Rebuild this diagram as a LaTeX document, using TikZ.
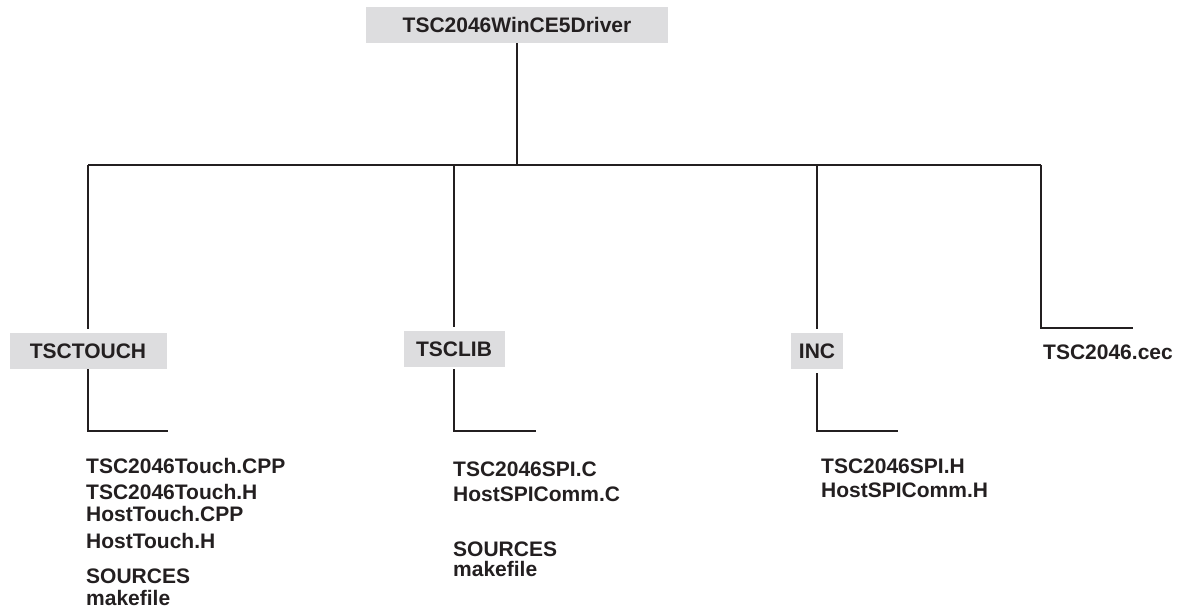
\documentclass[tikz,border=0pt]{standalone}
\usepackage{fontspec}
\setmainfont{Liberation Sans}
\definecolor{ink}{HTML}{231F20}
\definecolor{boxgray}{HTML}{DDDDDF}
\begin{document}
\begin{tikzpicture}[x=1pt,y=-1pt,
  every node/.style={font=\fontsize{21}{25}\selectfont\bfseries, text=ink, inner sep=0pt},
  dirbox/.style={fill=boxgray, minimum height=36pt, text height=15pt, text depth=0pt},
  filetext/.style={anchor=base west},
  link/.style={draw=ink, line width=1.6pt}]
\useasboundingbox (0,0) rectangle (1178,609);
% directory nodes
\node[dirbox, minimum width=302pt] (root) at (517,25) {TSC2046WinCE5Driver};
\node[dirbox, minimum width=157pt] (touch) at (88,351) {TSCTOUCH};
\node[dirbox, minimum width=101pt] (lib) at (454,349) {TSCLIB};
\node[dirbox, minimum width=52pt] (inc) at (817,351) {INC};
\node[filetext] (cec) at (1043,360) {TSC2046.cec};
% bus coordinates
\coordinate (busL) at (88,165);
\coordinate (busM) at (517,165);
\coordinate (busB) at (454,165);
\coordinate (busC) at (817,165);
\coordinate (busR) at (1041,165);
\coordinate (cecEnd) at (1133,328);
\coordinate (tEnd) at (168,431);
\coordinate (lEnd) at (536,431);
\coordinate (iEnd) at (898,431);
% connectors
\draw[link] (root.south) -- (busM);
\draw[link] (busL) -- (busR);
\draw[link, shorten >=4pt] (busL) -- (touch.north);
\draw[link, shorten >=4pt] (busB) -- (lib.north);
\draw[link, shorten >=4pt] (busC) -- (inc.north);
\draw[link] (busR) |- (cecEnd);
\draw[link] (touch.south) |- (tEnd);
\draw[link, shorten <=2pt] (lib.south) |- (lEnd);
\draw[link, shorten <=4pt] (inc.south) |- (iEnd);
% files of TSCTOUCH
\node[filetext] (t1) at (86,473) {TSC2046Touch.CPP};
\node[filetext] (t2) at (86,499) {TSC2046Touch.H};
\node[filetext] (t3) at (86,521) {HostTouch.CPP};
\node[filetext] (t4) at (86,548) {HostTouch.H};
\node[filetext] (t5) at (86,583) {SOURCES};
\node[filetext] (t6) at (86,605) {makefile};
% files of TSCLIB
\node[filetext] (l1) at (453,476) {TSC2046SPI.C};
\node[filetext] (l2) at (453,501) {HostSPIComm.C};
\node[filetext] (l3) at (453,556) {SOURCES};
\node[filetext] (l4) at (453,576) {makefile};
% files of INC
\node[filetext] (i1) at (821,473) {TSC2046SPI.H};
\node[filetext] (i2) at (821,497) {HostSPIComm.H};
\end{tikzpicture}
\end{document}
